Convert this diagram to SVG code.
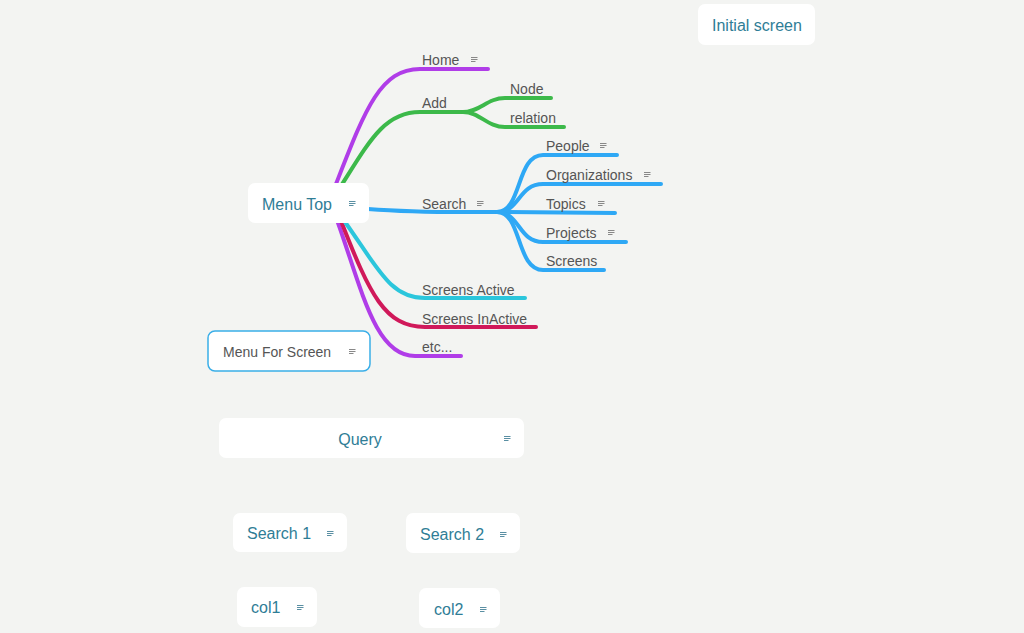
<svg xmlns="http://www.w3.org/2000/svg" width="1024" height="633" viewBox="0 0 1024 633">
<defs>
<style>
.bg{fill:#f3f4f2}
.box{fill:#ffffff}
.t{font-family:"Liberation Sans",Arial,sans-serif;font-size:16px;fill:#2f7d96}
.l{font-family:"Liberation Sans",Arial,sans-serif;font-size:14px;fill:#555555}
.br{fill:none;stroke-width:4;stroke-linecap:round;stroke-linejoin:round}
.note{fill:none;stroke-width:1.2}
</style>
<g id="note-icon">
<path d="M0 0.5H6.5M0 2.5H6.5M0 4.5H4.5"/>
</g>
</defs>
<rect class="bg" x="0" y="0" width="1024" height="633"/>

<g id="connectors">
<path class="br" stroke="#b03de8" d="M336 184 C365 110 380 69 420 69 L488 69"/>
<path class="br" stroke="#3cb94a" d="M341 186 C370 140 385 112 420 112 L463 112"/>
<path class="br" stroke="#3cb94a" d="M463 112 C480 112 487 98 505 98 L551 98"/>
<path class="br" stroke="#3cb94a" d="M463 112 C480 112 487 127 505 127 L564 127"/>
<path class="br" stroke="#2ea8f5" d="M368 209 C420 213 450 212 497 212"/>
<path class="br" stroke="#2ea8f5" d="M497 212 C522 212 516 155 543 155 L617 155"/>
<path class="br" stroke="#2ea8f5" d="M497 212 C520 212 518 184 543 184 L661 184"/>
<path class="br" stroke="#2ea8f5" d="M497 212 L615 213"/>
<path class="br" stroke="#2ea8f5" d="M497 212 C520 212 518 242 543 242 L626 242"/>
<path class="br" stroke="#2ea8f5" d="M497 212 C522 212 516 270 543 270 L604 270"/>
<path class="br" stroke="#b03de8" d="M337 220 C362 290 375 356 415 356 L461 356"/>
<path class="br" stroke="#d0195a" d="M341 221 C370 295 385 327 425 327 L536 327"/>
<path class="br" stroke="#2bc6dc" d="M345 222 C378 268 390 298 425 298 L525 298"/>
</g>

<g id="labels" class="l">
<text x="422" y="65">Home</text>
<text x="422" y="108">Add</text>
<text x="510" y="94">Node</text>
<text x="510" y="123">relation</text>
<text x="422" y="209">Search</text>
<text x="546" y="151">People</text>
<text x="546" y="180">Organizations</text>
<text x="546" y="209">Topics</text>
<text x="546" y="238">Projects</text>
<text x="546" y="266">Screens</text>
<text x="422" y="295">Screens Active</text>
<text x="422" y="324">Screens InActive</text>
<text x="422" y="352">etc...</text>
</g>
<g id="label-notes" class="note" stroke="#888888">
<use href="#note-icon" x="471" y="57"/>
<use href="#note-icon" x="477" y="201"/>
<use href="#note-icon" x="600" y="143"/>
<use href="#note-icon" x="644" y="172"/>
<use href="#note-icon" x="598" y="201"/>
<use href="#note-icon" x="608" y="230"/>
</g>

<g id="menu-top">
<rect class="box" x="248" y="183" width="121" height="40" rx="7"/>
<text class="t" x="262" y="210">Menu Top</text>
<use href="#note-icon" class="note" stroke="#5a8fa3" x="349" y="201"/>
</g>

<g id="initial-screen">
<rect class="box" x="698" y="4" width="117" height="41" rx="7"/>
<text class="t" x="712" y="31">Initial screen</text>
</g>

<g id="menu-for-screen">
<rect x="208" y="331" width="162" height="40" rx="7" fill="#ffffff" stroke="#3aaee8" stroke-width="1.5"/>
<text class="l" x="223" y="357">Menu For Screen</text>
<use href="#note-icon" class="note" stroke="#888888" x="349" y="349"/>
</g>

<g id="query">
<rect class="box" x="219" y="418" width="305" height="40" rx="7"/>
<text class="t" x="360" y="445" text-anchor="middle">Query</text>
<use href="#note-icon" class="note" stroke="#5a8fa3" x="504" y="436"/>
</g>

<g id="search-1">
<rect class="box" x="233" y="513" width="114" height="39" rx="7"/>
<text class="t" x="247" y="539">Search 1</text>
<use href="#note-icon" class="note" stroke="#5a8fa3" x="327" y="531"/>
</g>

<g id="search-2">
<rect class="box" x="406" y="513" width="114" height="40" rx="7"/>
<text class="t" x="420" y="540">Search 2</text>
<use href="#note-icon" class="note" stroke="#5a8fa3" x="500" y="532"/>
</g>

<g id="col1">
<rect class="box" x="237" y="587" width="80" height="40" rx="7"/>
<text class="t" x="251" y="613">col1</text>
<use href="#note-icon" class="note" stroke="#5a8fa3" x="297" y="605"/>
</g>

<g id="col2">
<rect class="box" x="419" y="588" width="81" height="40" rx="7"/>
<text class="t" x="434" y="615">col2</text>
<use href="#note-icon" class="note" stroke="#5a8fa3" x="480" y="607"/>
</g>
</svg>
